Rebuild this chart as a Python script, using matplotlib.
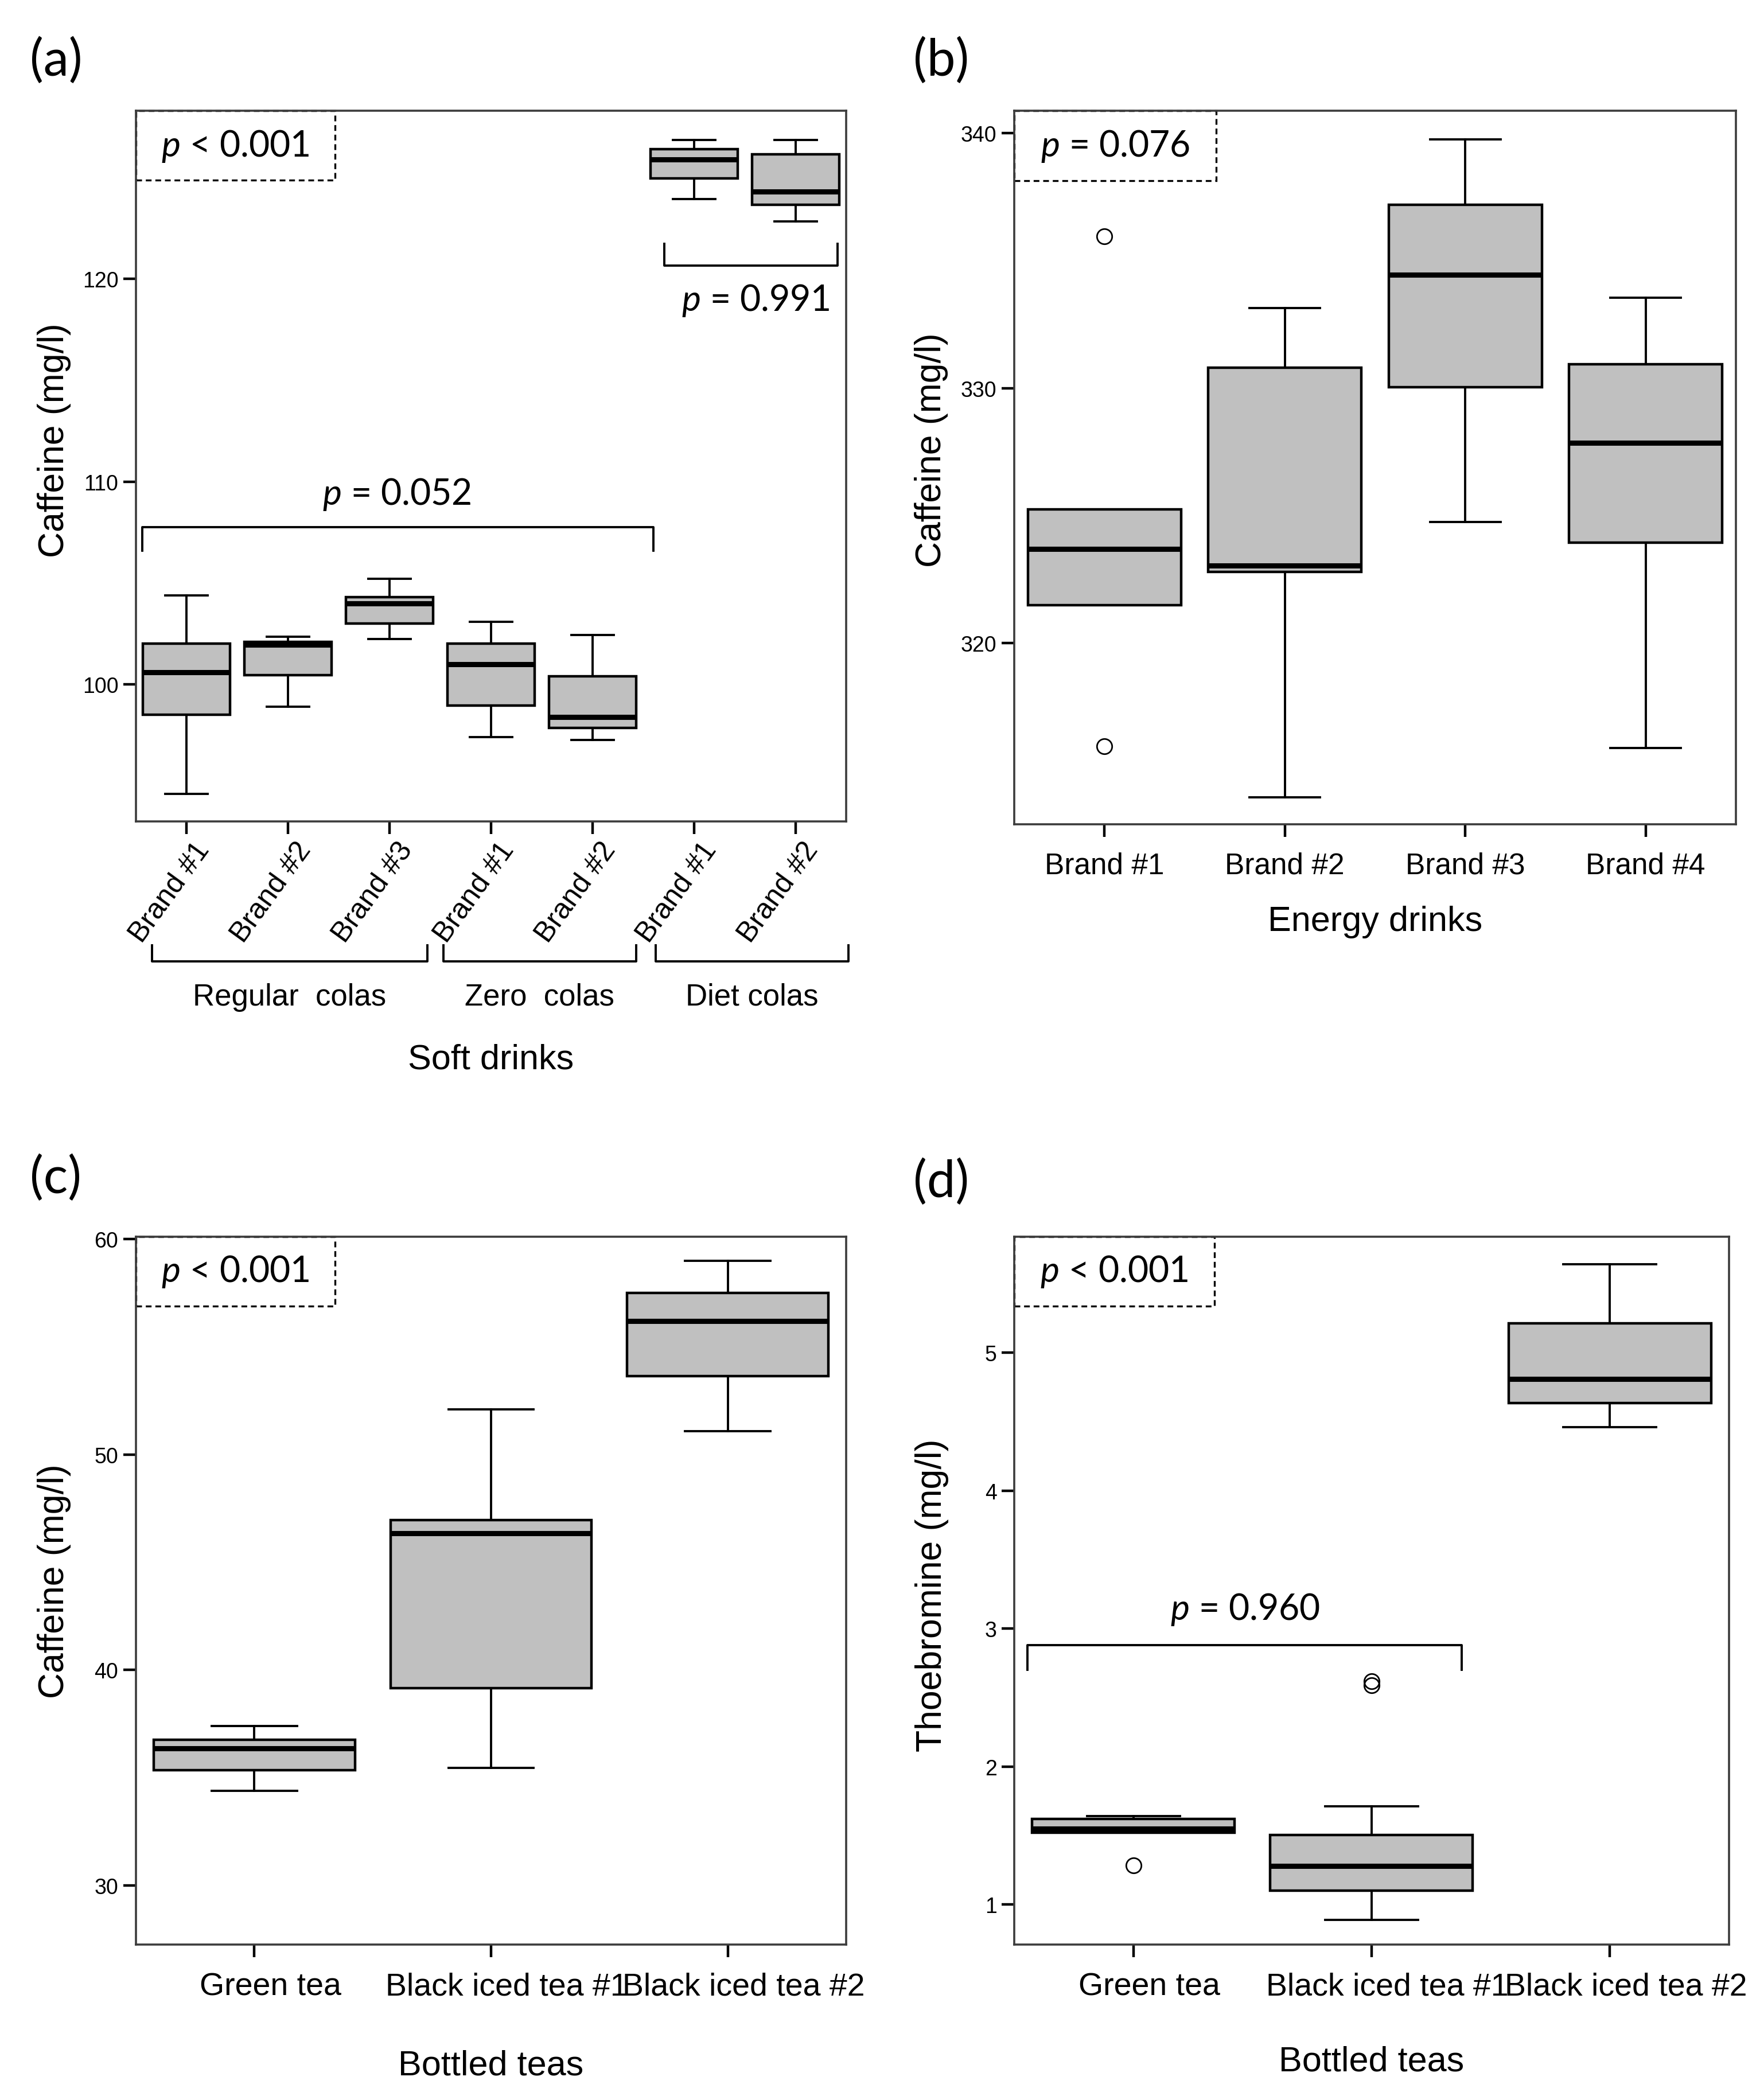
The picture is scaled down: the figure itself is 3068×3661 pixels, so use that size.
import matplotlib
matplotlib.use("Agg")
import matplotlib.pyplot as plt
from matplotlib.patches import Rectangle
from matplotlib.transforms import ScaledTranslation, blended_transform_factory

plt.rcParams['font.family'] = ['Liberation Sans', 'DejaVu Sans']
plt.rcParams['mathtext.fontset'] = 'custom'
plt.rcParams['mathtext.it'] = 'Lato:italic'
plt.rcParams['mathtext.rm'] = 'Lato'

# ============================================================================ #
# data (whisker low, Q1, median, Q3, whisker high)

soft_labels = ["Brand #1", "Brand #2", "Brand #3", "Brand #1", "Brand #2", "Brand #1", "Brand #2"]
soft_groups = ["Regular  colas", "Zero  colas", "Diet colas"]
soft_lo  = [94.6, 98.9, 102.25, 97.4, 97.25, 123.95, 122.85]
soft_q1  = [98.5, 100.45, 103.0, 98.95, 97.85, 124.95, 123.65]
soft_med = [100.6, 101.95, 104.0, 101.0, 98.4, 125.9, 124.3]
soft_q3  = [102.0, 102.1, 104.3, 102.0, 100.4, 126.4, 126.15]
soft_hi  = [104.4, 102.35, 105.2, 103.1, 102.45, 126.85, 126.85]
soft_out = [[], [], [], [], [], [], []]

energy_labels = ["Brand #1", "Brand #2", "Brand #3", "Brand #4"]
energy_lo  = [321.5, 313.95, 324.75, 315.9]
energy_q1  = [321.5, 322.8, 330.05, 323.95]
energy_med = [323.7, 323.05, 334.45, 327.85]
energy_q3  = [325.25, 330.8, 337.2, 330.95]
energy_hi  = [325.25, 333.15, 339.75, 333.55]
energy_out = [[335.95, 315.95], [], [], []]

tea_labels = ["Green tea", "Black iced tea #1", "Black iced tea #2"]
caf_lo  = [34.4, 35.45, 51.1]
caf_q1  = [35.35, 39.15, 53.65]
caf_med = [36.35, 46.35, 56.2]
caf_q3  = [36.75, 46.95, 57.5]
caf_hi  = [37.4, 52.1, 59.0]
caf_out = [[], [], []]

theo_lo  = [1.52, 0.89, 4.46]
theo_q1  = [1.52, 1.10, 4.635]
theo_med = [1.55, 1.28, 4.81]
theo_q3  = [1.62, 1.505, 5.21]
theo_hi  = [1.64, 1.71, 5.64]
theo_out = [[1.285], [2.62, 2.59], []]

# ============================================================================ #
# helpers

def stats(lo, q1, med, q3, hi, out) :
    return [dict(whislo=a, q1=b, med=c, q3=d, whishi=e, fliers=f)
            for a, b, c, d, e, f in zip(lo, q1, med, q3, hi, out)]

def boxes(ax, st, width, capw) :
    ax.bxp(st, positions=range(1, len(st) + 1), widths=width, capwidths=capw,
           patch_artist=True,
           boxprops=dict(facecolor='#c0c0c0', edgecolor='black', linewidth=3.2),
           medianprops=dict(color='black', linewidth=6.5),
           whiskerprops=dict(color='black', linewidth=2.8),
           capprops=dict(color='black', linewidth=2.8),
           flierprops=dict(marker='o', markerfacecolor='none', markeredgecolor='black',
                           markersize=19, markeredgewidth=2.0))
    ax.set_xlim(0.5, len(st) + 0.5)

def style(ax) :
    for s in ax.spines.values() :
        s.set_color('#3c3c3c')
        s.set_linewidth(2.6)
    ax.tick_params(length=16, width=3.2, color='black')
    ax.tick_params(axis='y', labelsize=27, pad=6)

def pbox(ax, txt) :
    w, h = 0.28, 0.098
    ax.add_patch(Rectangle((0, 1 - h), w, h, transform=ax.transAxes, fill=False,
                           ls=(0, (3, 2)), lw=2.4, ec='black', clip_on=False))
    ax.text(w / 2, 1 - h / 2, txt, transform=ax.transAxes, ha='center', va='center',
            fontsize=45, family='Lato')

def bracket(ax, x0, x1, y, yend, trans=None) :
    ax.plot([x0, x0, x1, x1], [yend, y, y, yend], color='black', lw=2.8,
            transform=trans if trans else ax.transData, clip_on=False)

def labels(ax, xlab, xy, ylab, yy) :
    ax.set_xlabel(xlab, fontsize=44)
    ax.set_ylabel(ylab, fontsize=45)
    ax.xaxis.label.set_va('center')
    ax.yaxis.label.set_va('center')
    ax.xaxis.set_label_coords(0.5, xy)
    ax.yaxis.set_label_coords(-0.115, yy)

fig = plt.figure(figsize=(30.68, 36.62), dpi=100)

# ============================================================================ #
# (a) soft drinks

ax = fig.add_axes([0.0772, 0.6087, 0.4036, 0.3383])
boxes(ax, stats(soft_lo, soft_q1, soft_med, soft_q3, soft_hi, soft_out), 0.86, 0.42)
style(ax)
ax.set_ylim(93.24, 128.3)
ax.set_yticks([100, 110, 120])
ax.set_xticks(range(1, 8))
ax.set_xticklabels(soft_labels, fontsize=36, rotation=54, ha='right', va='center',
                   rotation_mode='anchor')
off = ScaledTranslation(22 / 72, -10 / 72, fig.dpi_scale_trans)
for lab in ax.get_xticklabels() :
    lab.set_transform(lab.get_transform() + off)

pbox(ax, r"$p$ < 0.001")
bracket(ax, 0.565, 5.6, 107.75, 106.6)
ax.text(3.07, 109.4, r"$p$ = 0.052", ha='center', va='center', fontsize=45, family='Lato')
bracket(ax, 5.71, 7.415, 120.65, 121.75)
ax.text(6.61, 118.95, r"$p$ = 0.991", ha='center', va='center', fontsize=45, family='Lato')

tr = blended_transform_factory(ax.transData, ax.transAxes)
for (x0, x1), g in zip([(0.66, 3.37), (3.53, 5.43), (5.62, 7.52)], soft_groups) :
    bracket(ax, x0, x1, -0.197, -0.174, tr)
    ax.text((x0 + x1) / 2, -0.247, g, transform=tr, ha='center', va='center', fontsize=38)

labels(ax, "Soft drinks", -0.335, "Caffeine (mg/l)", 0.537)
fig.text(0.017, 0.971, "(a)", fontsize=64, family='Lato', va='center')

# ============================================================================ #
# (b) energy drinks

ax = fig.add_axes([0.5763, 0.6073, 0.41, 0.3397])
boxes(ax, stats(energy_lo, energy_q1, energy_med, energy_q3, energy_hi, energy_out), 0.85, 0.39)
style(ax)
ax.set_ylim(312.9, 340.88)
ax.set_yticks([320, 330, 340])
ax.set_xticks(range(1, 5))
ax.set_xticklabels(energy_labels, fontsize=37)
ax.tick_params(axis='x', pad=18)
pbox(ax, r"$p$ = 0.076")
labels(ax, "Energy drinks", -0.136, "Caffeine (mg/l)", 0.525)
fig.text(0.519, 0.971, "(b)", fontsize=64, family='Lato', va='center')

# ============================================================================ #
# (c) bottled teas, caffeine

ax = fig.add_axes([0.0772, 0.074, 0.4036, 0.337])
boxes(ax, stats(caf_lo, caf_q1, caf_med, caf_q3, caf_hi, caf_out), 0.85, 0.36)
style(ax)
ax.set_ylim(27.25, 60.12)
ax.set_yticks([30, 40, 50, 60])
ax.set_xticks(range(1, 4))
ax.set_xticklabels(tea_labels, fontsize=40)
ax.tick_params(axis='x', pad=18)
off = ScaledTranslation(20 / 72, 0, fig.dpi_scale_trans)
for lab in ax.get_xticklabels() :
    lab.set_transform(lab.get_transform() + off)
pbox(ax, r"$p$ < 0.001")
labels(ax, "Bottled teas", -0.171, "Caffeine (mg/l)", 0.514)
fig.text(0.017, 0.439, "(c)", fontsize=64, family='Lato', va='center')

# ============================================================================ #
# (d) bottled teas, theobromine

ax = fig.add_axes([0.5763, 0.074, 0.406, 0.337])
boxes(ax, stats(theo_lo, theo_q1, theo_med, theo_q3, theo_hi, theo_out), 0.85, 0.39)
style(ax)
ax.set_ylim(0.71, 5.84)
ax.set_yticks([1, 2, 3, 4, 5])
ax.set_xticks(range(1, 4))
ax.set_xticklabels(tea_labels, fontsize=40)
ax.tick_params(axis='x', pad=18)
off = ScaledTranslation(20 / 72, 0, fig.dpi_scale_trans)
for lab in ax.get_xticklabels() :
    lab.set_transform(lab.get_transform() + off)
pbox(ax, r"$p$ < 0.001")
bracket(ax, 0.556, 2.378, 2.878, 2.703)
ax.text(1.47, 3.14, r"$p$ = 0.960", ha='center', va='center', fontsize=45, family='Lato')
labels(ax, "Bottled teas", -0.165, "Thoebromine (mg/l)", 0.494)
fig.text(0.519, 0.437, "(d)", fontsize=64, family='Lato', va='center')

fig.savefig("out.png", dpi=100)
